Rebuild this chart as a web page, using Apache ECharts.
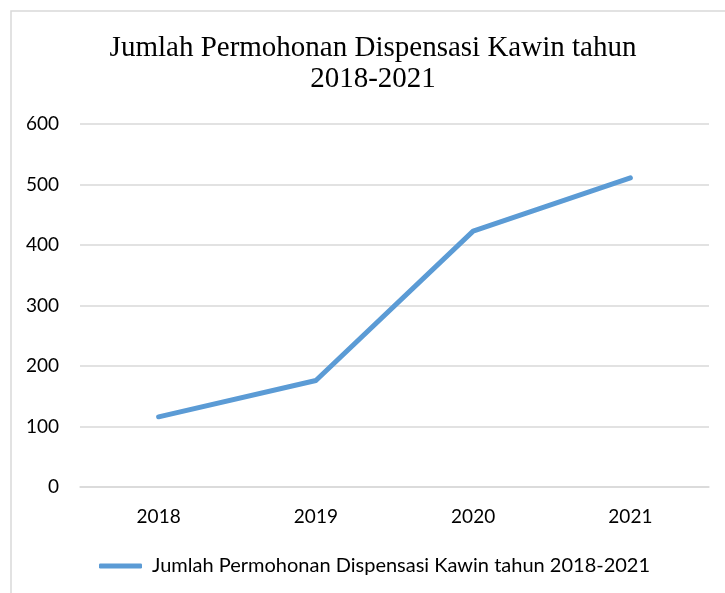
<!DOCTYPE html>
<html>
<head>
<meta charset="utf-8">
<script src="https://cdn.jsdelivr.net/npm/echarts@6/dist/echarts.min.js"></script>
<style>
html,body{margin:0;padding:0;background:#fff;}
#main{width:725px;height:593px;}
</style>
</head>
<body>
<div id="main"></div>
<script>
const titleText = 'Jumlah Permohonan Dispensasi Kawin tahun\n2018-2021';
const seriesName = 'Jumlah Permohonan Dispensasi Kawin tahun 2018-2021';
const categories = ['2018', '2019', '2020', '2021'];
const values = [116, 176, 423, 511];

const chart = echarts.init(document.getElementById('main'), null, {renderer: 'canvas'});
chart.setOption({
  animation: false,
  backgroundColor: '#ffffff',
  graphic: [{
    type: 'rect',
    shape: {x: 11, y: 11, width: 800, height: 700},
    style: {fill: 'none', stroke: '#d9d9d9', lineWidth: 1.5},
    silent: true, z: -1
  }],
  title: {
    text: titleText,
    left: 368,
    textAlign: 'center',
    top: 28,
    textStyle: {
      fontFamily: 'Liberation Serif',
      fontSize: 29,
      fontWeight: 'normal',
      color: '#000',
      lineHeight: 31
    }
  },
  legend: {
    left: 94,
    top: 551,
    itemWidth: 43,
    itemHeight: 5,
    itemGap: 10,
    icon: 'roundRect',
    textStyle: {fontFamily: 'Lato', fontSize: 20, color: '#000', padding: [0, 0, 0, 5]},
    data: [seriesName]
  },
  grid: {left: 80, right: 16, top: 124, bottom: 106, containLabel: false},
  xAxis: {
    type: 'category',
    data: categories,
    boundaryGap: true,
    axisLine: {show: true, lineStyle: {color: '#d9d9d9', width: 1.5}},
    axisTick: {show: false},
    axisLabel: {fontFamily: 'Lato', fontSize: 19, color: '#000', margin: 20}
  },
  yAxis: {
    type: 'value',
    min: 0,
    max: 600,
    interval: 100,
    axisLine: {show: false},
    axisTick: {show: false},
    splitLine: {lineStyle: {color: '#d9d9d9', width: 1.5}},
    axisLabel: {fontFamily: 'Lato', fontSize: 19, color: '#000', margin: 21}
  },
  series: [{
    name: seriesName,
    type: 'line',
    data: values,
    symbol: 'none',
    lineStyle: {color: '#5b9bd5', width: 5, cap: 'round', join: 'round'},
    itemStyle: {color: '#5b9bd5'}
  }]
});
</script>
</body>
</html>
